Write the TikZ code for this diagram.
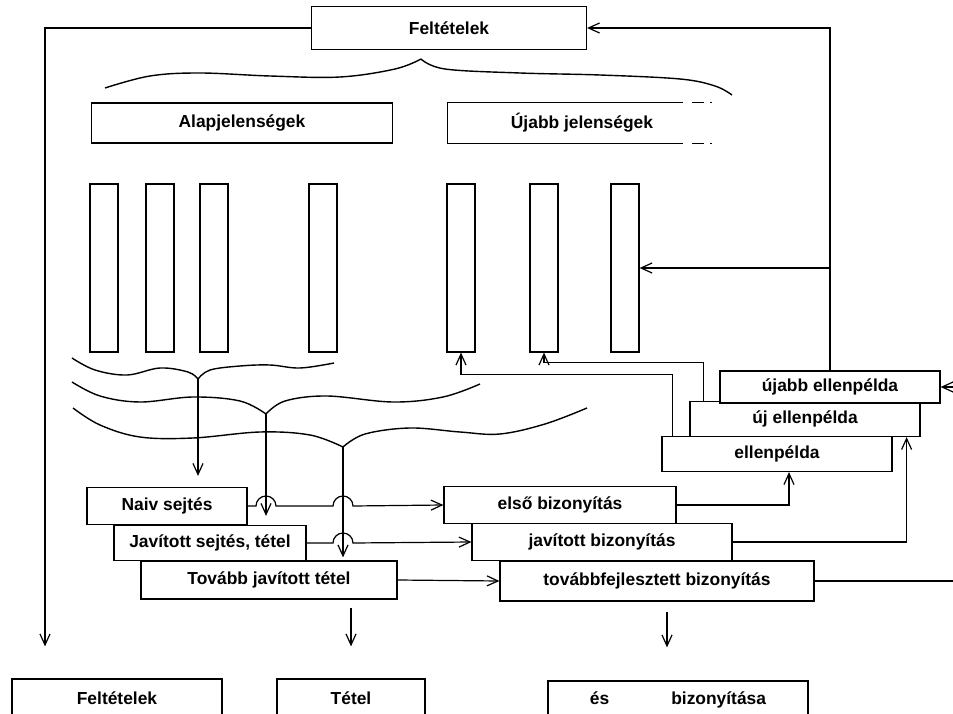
\documentclass[tikz,border=0pt]{standalone}
\usepackage{fontspec}
\setmainfont{Liberation Sans}
\usepackage{tikz}
\usetikzlibrary{arrows.meta,positioning,calc}

\begin{document}
\begin{tikzpicture}[
  x=1pt,y=-1pt,
  line width=1.2pt,
  font=\fontsize{17.4}{19}\selectfont\bfseries,
  box/.style={draw,fill=white,minimum height=37pt,inner sep=0pt,align=center},
  col/.style={draw,minimum width=28pt,minimum height=168pt,inner sep=0pt},
  arr/.style={-{Straight Barb[length=11pt,width=10pt]}},
  wbrace/.style={line width=1.4pt,smooth,tension=0.6}
]
  \useasboundingbox (0,0) rectangle (953,714);

  \node[box, minimum width=275pt, minimum height=43pt] (felt) at (449,28) {Feltételek};
  \node[box, minimum width=301pt, minimum height=40pt] (alap) at (242,123) {Alapjelenségek};
  \node[minimum width=268pt, minimum height=40pt, inner sep=0pt] (ujj) at (582,123) {Újabb jelenségek};

  \foreach \n/\x in {1/104,2/160,3/214,4/323,5/461,6/544,7/625}
    \node[col] (c\n) at (\x,268) {};

  \node[box, minimum width=230pt, minimum height=35pt] (ep) at (777,454) {ellenpélda};
  \node[box, minimum width=230pt, minimum height=35pt] (uj) at (805,419) {új ellenpélda};
  \node[box, minimum width=220pt, minimum height=32pt] (uep) at (830,387) {újabb ellenpélda};

  \node[box, minimum width=160pt] (naiv) at (167,506) {Naiv sejtés};
  \node[box, minimum width=192pt, minimum height=35pt] (jst) at (210,543) {Javított sejtés, tétel};
  \node[box, minimum width=256pt, minimum height=38pt] (tjt) at (269,580) {Tovább javított tétel};

  \node[box, minimum width=232pt] (elso) at (560,505) {első bizonyítás};
  \node[box, minimum width=260pt] (javb) at (602,542) {javított bizonyítás};
  \node[box, minimum width=314pt, minimum height=40pt] (tfb) at (657,581) {továbbfejlesztett bizonyítás};

  \node[box, minimum width=210pt, minimum height=38pt] (ff) at (117,698) {Feltételek};
  \node[box, minimum width=148pt, minimum height=38pt] (tetel) at (351,698) {Tétel};
  \node[box, minimum width=260pt, minimum height=38pt] (bizb) at (678,700) {és\hspace{62pt}bizonyítása};

  \coordinate (lc) at (45,0);
  \coordinate (edge) at (953,0);
  \coordinate (t0) at (421,59);
  \coordinate (t1) at (198,379);
  \coordinate (t2) at (266,414);
  \coordinate (t3) at (343,447);

  \draw (ujj.north west) -- (ujj.south west);
  \draw[dash pattern=on 236pt off 9pt on 12pt off 6pt on 2pt off 20pt] (ujj.north west) -- (ujj.north east);
  \draw[dash pattern=on 236pt off 9pt on 12pt off 6pt on 2pt off 20pt] (ujj.south west) -- (ujj.south east);

  \draw[wbrace] plot coordinates {(105,88) (150,76) (200,73) (270,76) (340,77) (395,69) (t0)};
  \draw[wbrace] plot coordinates {(t0) (445,69) (520,73) (600,75) (680,79) (715,86) (732,95)};
  \draw[wbrace] plot coordinates {(72,358) (95,370) (127,375) (160,368) (188,372) (t1)};
  \draw[wbrace] plot coordinates {(t1) (210,370) (240,366) (270,365) (300,368) (334,363)};
  \draw[wbrace] plot coordinates {(72,382) (100,396) (140,402) (193,397) (240,401) (t2)};
  \draw[wbrace] plot coordinates {(t2) (285,401) (327,396) (393,402) (443,397) (480,384)};
  \draw[wbrace] plot coordinates {(73,408) (100,425) (140,437) (193,438) (260,432) (310,435) (t3)};
  \draw[wbrace] plot coordinates {(t3) (365,434) (410,428) (460,432) (500,434) (545,424) (587,408)};

  \draw[arr, shorten >=32pt] (felt.west) -| (lc |- ff.north);
  \draw[arr] (uep.north) |- (felt.east);
  \draw[arr] (uep.north |- c7.east) -- (c7.east);
  \draw[arr] ($(ep.north west)+(11,0)$) |- ($(c5.south)+(0,22)$) -- (c5.south);
  \draw[arr] ($(uj.north west)+(14,0)$) |- ($(c6.south)+(0,10)$) -- (c6.south);

  \draw[arr, shorten >=11pt] (t1) -- (t1 |- naiv.north);
  \draw[arr, shorten >=9pt] (t2) -- (t2 |- jst.north);
  \draw[arr, shorten >=3pt] (t3) -- (t3 |- tjt.north);

  \draw[arr] (naiv.east) -- ($(t2 |- naiv.east)+(-10,0)$) arc[start angle=180,end angle=0,radius=10pt]
    -- ($(t3 |- naiv.east)+(-10,0)$) arc[start angle=180,end angle=0,radius=10pt] -- (elso.west);
  \draw[arr] (jst.east) -- ($(t3 |- jst.east)+(-10,0)$) arc[start angle=180,end angle=0,radius=10pt] -- (javb.west);
  \draw[arr] (tjt.east) -- (tfb.west);

  \draw[arr] (elso.east) -| ($(ep.south)+(12,0)$);
  \draw[arr] (javb.east) -| ($(uj.south east)+(-14,0)$);
  \draw (tfb.east) -- (tfb.east -| edge);
  \draw[arr] (uep.east -| edge) -- (uep.east);

  \draw[arr, shorten <=8pt, shorten >=32pt] (tjt.south -| tetel.north) -- (tetel.north);
  \draw[arr, shorten <=10pt, shorten >=33pt] ($(tfb.south -| bizb.north)+(-11,0)$) -- ($(bizb.north)+(-11,0)$);
\end{tikzpicture}
\end{document}
